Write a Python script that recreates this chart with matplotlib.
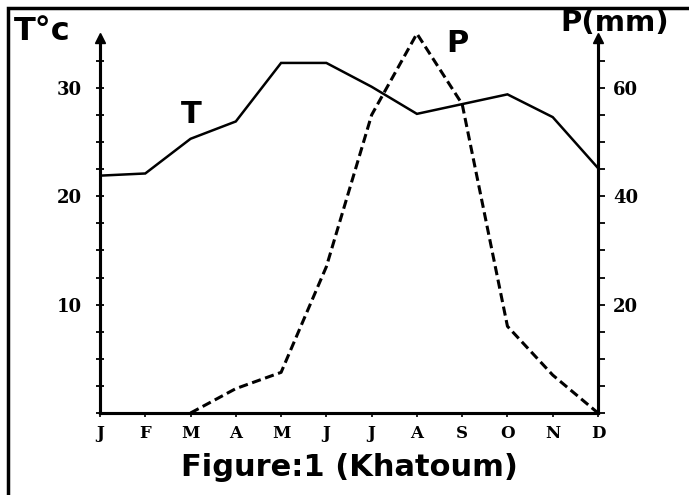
import numpy as np
import matplotlib
matplotlib.use("Agg")
import matplotlib.pyplot as plt
from matplotlib.patches import Rectangle

# values
months = ["J", "F", "M", "A", "M", "J", "J", "A", "S", "O", "N", "D"]
temp_c = [21.9, 22.1, 25.3, 26.9, 32.3, 32.3, 30.1, 27.6, 28.5, 29.4, 27.3, 22.6]
precip_mm = [np.nan, np.nan, 0, 4.5, 7.5, 27, 55, 70, 57, 16, 7, 0]
temp_ticks = [10, 20, 30]
precip_ticks = [20, 40, 60]

fig = plt.figure(figsize=(6.89, 4.95), dpi=100)
ax = fig.add_axes([100 / 689, 82 / 495, 498 / 689, 375 / 495])
ax2 = ax.twinx()

x = np.arange(len(months))
ax.plot(x, temp_c, color="black", lw=1.8, solid_joinstyle="miter")
ax2.plot(x, precip_mm, color="black", lw=2.2, ls=(0, (3, 1.5)), clip_on=False)

ax.set_xlim(0, 11)
ax.set_ylim(0, 34.6)
ax2.set_ylim(0, 69.2)

for a in (ax, ax2):
    a.spines["top"].set_visible(False)
    for s in a.spines.values():
        s.set_linewidth(2.2)

serif = dict(fontfamily="DejaVu Serif", fontweight="bold")

ax.set_xticks(x)
ax.set_xticklabels(months, fontsize=12, **serif)
ax.tick_params(axis="x", direction="out", length=3, width=1.2, pad=6)

ax.set_yticks(temp_ticks)
ax.set_yticks(np.arange(0, 34, 2.5), minor=True)
ax.set_yticklabels([str(t) for t in temp_ticks], fontsize=13, **serif)
ax.tick_params(axis="y", which="both", direction="inout", length=6, width=1.3, pad=10)

ax2.set_yticks(precip_ticks)
ax2.set_yticks(np.arange(0, 68, 5), minor=True)
ax2.set_yticklabels([str(p) for p in precip_ticks], fontsize=13, **serif)
ax2.tick_params(axis="y", which="both", direction="out", length=5, width=1.3, pad=6)

# arrow heads on the two vertical axes
for xa in (0, 1):
    ax.plot([xa], [1.0], marker="^", color="black", markersize=7,
            transform=ax.transAxes, clip_on=False)

bold = dict(fontweight="bold", fontfamily="DejaVu Sans")
fig.text(14 / 689, 1 - 31 / 495, "T°c", fontsize=23, va="center", **bold)
fig.text(560 / 689, 1 - 23 / 495, "P(mm)", fontsize=21, va="center", **bold)
fig.text(191 / 689, 1 - 115 / 495, "T", fontsize=22, va="center", ha="center", **bold)
fig.text(457 / 689, 1 - 43 / 495, "P", fontsize=22, va="center", ha="center", **bold)
fig.text(349 / 689, 1 - 467 / 495, "Figure:1 (Khatoum)", fontsize=22,
         va="center", ha="center", **bold)

# frame around the figure (runs off the right and bottom edges)
fig.patches.append(Rectangle((8 / 689, -0.05), 1.0, 1 - 8 / 495 + 0.05,
                             transform=fig.transFigure, fill=False,
                             edgecolor="black", lw=2.5))

fig.savefig("out.png", dpi=100)
